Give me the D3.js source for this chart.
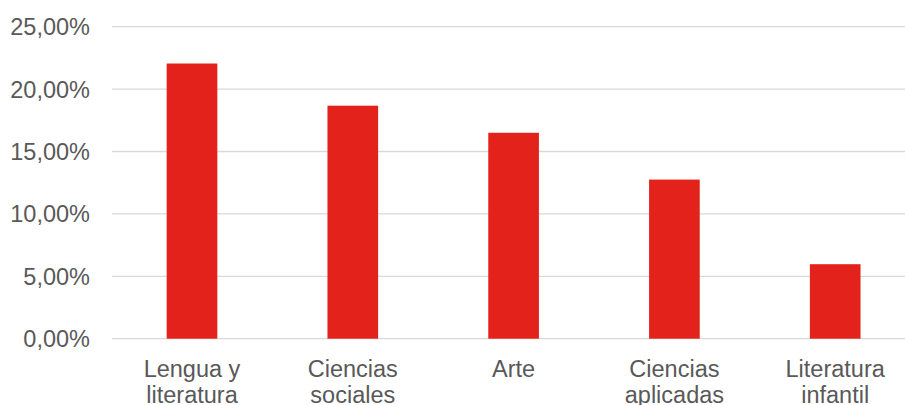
<!DOCTYPE html>
<html>
<head>
<meta charset="utf-8">
<script src="https://cdn.jsdelivr.net/npm/d3@7"></script>
<style>
  body { margin: 0; background: #fff; }
  text { font-family: "Liberation Sans", Arial, sans-serif; }
</style>
</head>
<body>
<script>
var categories = [['Lengua y', 'literatura'], ['Ciencias', 'sociales'], ['Arte'], ['Ciencias', 'aplicadas'], ['Literatura', 'infantil']];
var values = [0.2205, 0.1867, 0.1650, 0.1275, 0.0597];
var yTicks = [0, 0.05, 0.10, 0.15, 0.20, 0.25];

var width = 905;
var height = 405;

var svg = d3.select('body')
  .append('svg')
  .attr('width', width)
  .attr('height', height);

// plot area runs past the right edge, like the original crop
var x = d3.scaleBand()
  .domain(d3.range(categories.length))
  .range([111.6, 915.6])
  .paddingInner(0.685)
  .paddingOuter(0.3425);

var y = d3.scaleLinear()
  .domain([0, 0.25])
  .range([338.7, 26.7]);

var fmt = function(d) { return d3.format('.2f')(d * 100).replace('.', ',') + '%'; };

// gridlines
svg.append('g')
  .selectAll('line')
  .data(yTicks)
  .enter()
  .append('line')
  .attr('x1', 112)
  .attr('x2', width)
  .attr('y1', d => y(d))
  .attr('y2', d => y(d))
  .attr('stroke', '#d9d9d9')
  .attr('stroke-width', 1.3);

// y tick labels
svg.append('g')
  .selectAll('text')
  .data(yTicks)
  .enter()
  .append('text')
  .attr('x', 90)
  .attr('y', d => y(d))
  .attr('dy', '0.36em')
  .attr('text-anchor', 'end')
  .attr('fill', '#595959')
  .attr('font-size', '23.5px')
  .text(fmt);

// bars
svg.append('g')
  .selectAll('rect')
  .data(values)
  .enter()
  .append('rect')
  .attr('x', (d, i) => x(i))
  .attr('width', x.bandwidth())
  .attr('y', d => y(d))
  .attr('height', d => y(0) - y(d))
  .attr('fill', '#e3231b');

// category labels (second line is cut by the bottom edge, as in the original)
var labels = svg.append('g')
  .selectAll('text')
  .data(categories)
  .enter()
  .append('text')
  .attr('x', (d, i) => x(i) + x.bandwidth() / 2)
  .attr('y', 377)
  .attr('text-anchor', 'middle')
  .attr('fill', '#595959')
  .attr('font-size', '23.5px');

labels.selectAll('tspan')
  .data(d => d)
  .enter()
  .append('tspan')
  .attr('x', function() { return d3.select(this.parentNode).attr('x'); })
  .attr('dy', (d, i) => i === 0 ? 0 : 25.5)
  .text(d => d);
</script>
</body>
</html>
